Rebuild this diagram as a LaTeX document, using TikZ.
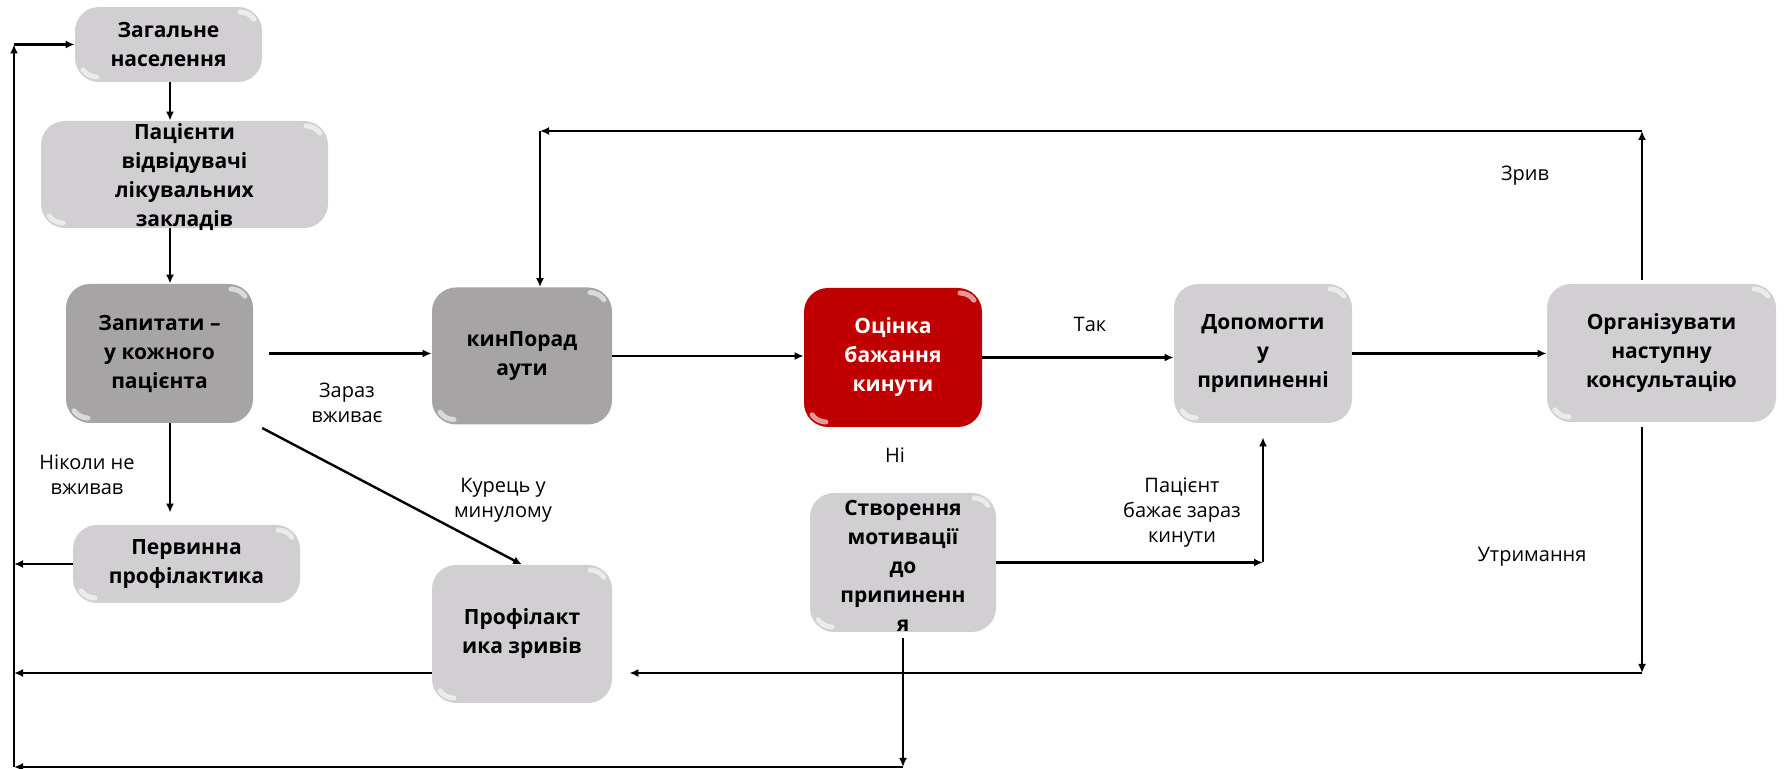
\documentclass[tikz,border=0pt]{standalone}
\usepackage{fontspec}
\setmainfont{Open Sans}
\usetikzlibrary{arrows.meta}

\definecolor{stagegray}{RGB}{209,207,209}
\definecolor{stagedark}{RGB}{166,164,164}
\definecolor{stagered}{RGB}{192,0,0}

\tikzset{
  gloss/.style={path picture={
    \draw[white,opacity=.6,line width=2.5pt,line cap=round]
      ([shift={(-11pt,-2.5pt)}]path picture bounding box.north east)
      arc[start angle=90,end angle=35,radius=8.5pt];
    \draw[white,opacity=.6,line width=2.5pt,line cap=round]
      ([shift={(11pt,2.5pt)}]path picture bounding box.south west)
      arc[start angle=270,end angle=215,radius=8.5pt];}},
  stage/.style={rounded corners=12pt, fill=stagegray, inner sep=0pt, align=center,
    font=\bfseries\fontsize{10.5}{14.5}\selectfont, gloss},
  darkstage/.style={stage, fill=stagedark},
  redstage/.style={stage, fill=stagered, text=white},
  stagetext/.style={align=center, inner sep=0pt, font=\bfseries\fontsize{10.5}{14.5}\selectfont},
  link/.style={-{Latex[length=4.5pt,width=4pt]}, line width=1.2pt},
  note/.style={align=center, font=\fontsize{10}{12.5}\selectfont}
}

\begin{document}
\begin{tikzpicture}[x=0.5pt,y=-0.5pt]
  \useasboundingbox (0,0) rectangle (1784,769);

  %Left column
  \node[stage, minimum width=93.5pt, minimum height=37.5pt] (pop) at (168.5,44.5) {Загальне\\населення};
  \node[stage, minimum width=143.5pt, minimum height=53.5pt] (visit) at (184.5,174.5) {};
  \node[stagetext] (visit-text) at (184.5,177) {Пацієнти\\відвідувачі\\лікувальних\\закладів};
  \node[darkstage, minimum width=93.5pt, minimum height=69.5pt] (ask) at (159.5,353.5) {Запитати –\\у кожного\\пацієнта};
  \node[stage, minimum width=113.5pt, minimum height=39pt] (primary) at (186.5,564) {Первинна\\профілактика};

  %Middle row
  \node[darkstage, minimum width=90pt, minimum height=68.5pt] (advise) at (522,356) {кинПорад\\аути};
  \node[redstage, minimum width=89pt, minimum height=69.5pt] (assess) at (893,357.5) {Оцінка\\бажання\\кинути};
  \node[stage, minimum width=89pt, minimum height=69.5pt] (help) at (1263,353.5) {Допомогти\\у\\припиненні};
  \node[stage, minimum width=114.5pt, minimum height=69pt] (followup) at (1661.5,353) {Організувати\\наступну\\консультацію};

  %Bottom row
  \node[stage, minimum width=90pt, minimum height=69pt] (relapse) at (522,634) {Профілакт\\ика зривів};
  \node[stage, minimum width=93pt, minimum height=69.5pt] (motivate) at (903,562.5) {};
  \node[stagetext] (motivate-text) at (903,566) {Створення\\мотивації\\до\\припиненн\\я};

  %Labels
  \node[note] (now) at (347,403) {Зараз\\вживає};
  \node[note] (never) at (87,475) {Ніколи не\\вживав};
  \node[note] (former) at (503,500) {Курець у\\минулому};
  \node[note] (yes) at (1090,324) {Так};
  \node[note] (no) at (895,455) {Ні};
  \node[note] (ready) at (1182,513) {Пацієнт\\бажає зараз\\кинути};
  \node[note] (lapse) at (1525,176) {Зрив};
  \node[note] (kept) at (1532,557) {Утримання};

  %Helper points
  \coordinate (spine) at (170,0);
  \coordinate (railbottom) at (14,767);
  \coordinate (railtop) at (14,44.5);
  \coordinate (loop) at (1642,131);
  \coordinate (loopleft) at (540,131);
  \coordinate (hold) at (1642,673);

  %Connectors
  \draw[link] (pop.south -| spine) -- (visit.north -| spine);
  \draw[link] (visit.south -| spine) -- (ask.north -| spine);
  \draw[link, shorten <=8pt] (ask.east) -- (ask.east -| advise.west);
  \draw[link, shorten >=6pt] (ask.south -| spine) -- (primary.north -| spine);
  \draw[link, shorten <=5pt] (ask.south east) -- (relapse.north);
  \draw[link] (primary.west) -- (primary.west -| railbottom);
  \draw[link] (advise.east) -- (advise.east -| assess.west);
  \draw[link] (assess.east) -- (assess.east -| help.west);
  \draw[link] (help.east) -- (help.east -| followup.west);

  %Return lines
  \draw[link] (relapse.west |- hold) -- (railbottom |- hold);
  \draw[link] (railbottom) -- (railtop);
  \draw[link] (railtop) -- (pop.west);
  \draw[link, shorten <=3pt] (motivate.south) -- (motivate.south |- railbottom);
  \draw[link] (motivate.south |- railbottom) -- (railbottom);
  \draw[link] (motivate.east) -- (motivate.east -| help.south);
  \draw[link, shorten >=7pt] (motivate.east -| help.south) -- (help.south);
  \draw[link, shorten <=2pt] (followup.north -| loop) -- (loop);
  \draw[link] (loop) -- (loopleft);
  \draw[link] (loopleft) -- (loopleft |- advise.north);
  \draw[link, shorten <=2.5pt] (followup.south -| hold) -- (hold);
  \draw[link, shorten >=8.5pt] (hold) -- (relapse.east |- hold);
\end{tikzpicture}
\end{document}
